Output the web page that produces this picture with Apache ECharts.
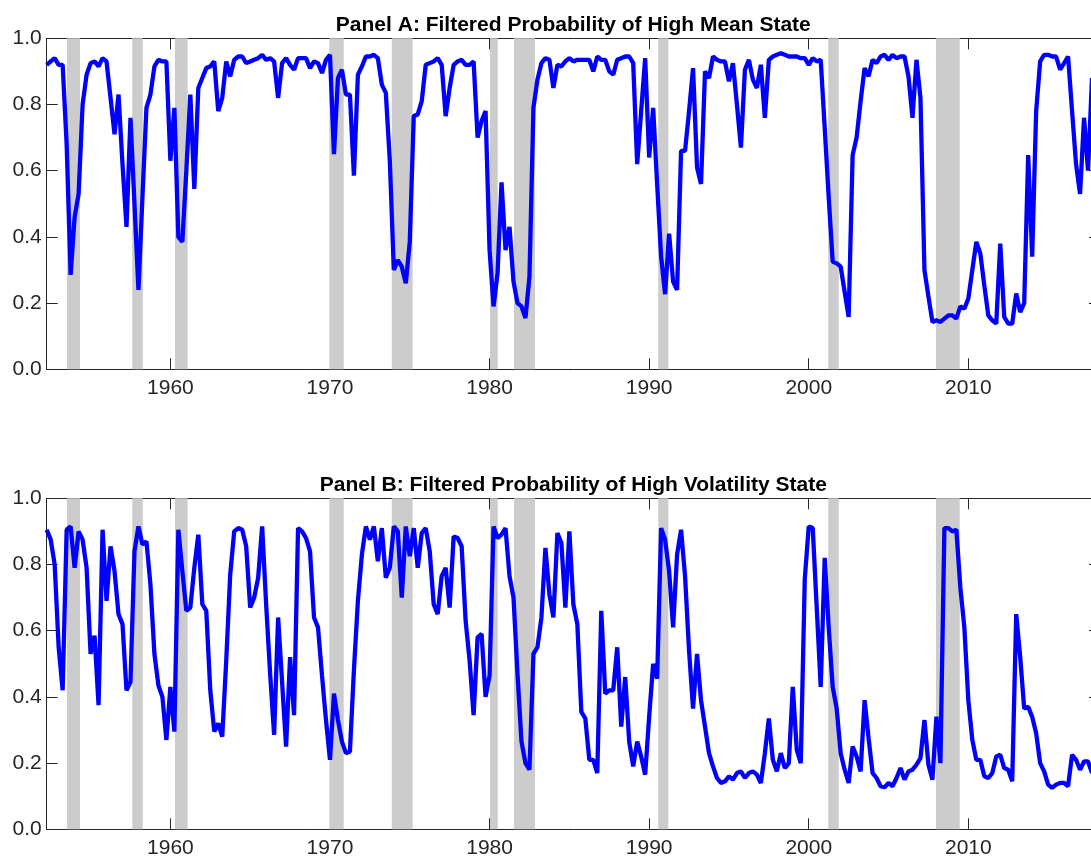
<!DOCTYPE html>
<html>
<head>
<meta charset="utf-8">
<title>Filtered probabilities</title>
<script src="https://cdn.jsdelivr.net/npm/echarts@6/dist/echarts.min.js"></script>
<style>
html, body { margin: 0; padding: 0; background: #fff; overflow: hidden; }
/* a bit wider than the window: the right frame of the axes falls just outside the picture */
#chart { width: 1110px; height: 859px; }
</style>
</head>
<body>
<div id="chart"></div>
<script>
// quarterly observations, first one at 1952.25
var startYear = 1952.25;

var highMeanProb = [
  0.92, 0.93, 0.94, 0.92, 0.92, 0.68, 0.285, 0.46, 0.53, 0.80,
  0.89, 0.925, 0.93, 0.915, 0.94, 0.93, 0.82, 0.71, 0.83, 0.62,
  0.43, 0.76, 0.50, 0.24, 0.52, 0.79, 0.83, 0.915, 0.935, 0.93,
  0.93, 0.63, 0.79, 0.40, 0.385, 0.60, 0.83, 0.545, 0.85, 0.88,
  0.91, 0.915, 0.93, 0.78, 0.82, 0.93, 0.885, 0.935, 0.945, 0.945,
  0.925, 0.93, 0.935, 0.94, 0.95, 0.935, 0.94, 0.93, 0.82, 0.925,
  0.94, 0.92, 0.905, 0.94, 0.94, 0.94, 0.91, 0.93, 0.925, 0.895,
  0.935, 0.95, 0.65, 0.88, 0.905, 0.83, 0.83, 0.585, 0.89, 0.915,
  0.945, 0.945, 0.95, 0.94, 0.86, 0.835, 0.63, 0.30, 0.33, 0.31,
  0.26, 0.385, 0.765, 0.77, 0.81, 0.92, 0.925, 0.93, 0.94, 0.92,
  0.765, 0.85, 0.92, 0.93, 0.935, 0.92, 0.92, 0.93, 0.70, 0.75,
  0.78, 0.36, 0.19, 0.29, 0.565, 0.36, 0.43, 0.265, 0.20, 0.19,
  0.155, 0.28, 0.79, 0.875, 0.925, 0.94, 0.935, 0.85, 0.92, 0.915,
  0.93, 0.94, 0.93, 0.935, 0.935, 0.935, 0.935, 0.90, 0.945, 0.935,
  0.935, 0.90, 0.89, 0.935, 0.94, 0.945, 0.945, 0.925, 0.62, 0.78,
  0.94, 0.64, 0.79, 0.56, 0.34, 0.227, 0.41, 0.265, 0.24, 0.66,
  0.66, 0.78, 0.91, 0.61, 0.56, 0.90, 0.88, 0.945, 0.935, 0.93,
  0.93, 0.87, 0.925, 0.80, 0.67, 0.905, 0.935, 0.875, 0.85, 0.92,
  0.76, 0.935, 0.945, 0.95, 0.955, 0.95, 0.945, 0.945, 0.945, 0.94,
  0.94, 0.92, 0.94, 0.93, 0.935, 0.73, 0.52, 0.325, 0.32, 0.31,
  0.234, 0.158, 0.647, 0.70, 0.81, 0.91, 0.885, 0.935, 0.925, 0.945,
  0.95, 0.935, 0.95, 0.94, 0.945, 0.945, 0.885, 0.76, 0.935, 0.82,
  0.30, 0.22, 0.143, 0.148, 0.143, 0.153, 0.163, 0.163, 0.153, 0.19,
  0.183, 0.214, 0.30, 0.385, 0.35, 0.254, 0.163, 0.148, 0.138, 0.38,
  0.158, 0.138, 0.138, 0.229, 0.173, 0.20, 0.647, 0.34, 0.78, 0.93,
  0.95, 0.95, 0.945, 0.945, 0.905, 0.925, 0.945, 0.78, 0.62, 0.53,
  0.76, 0.60, 0.88
];

var highVolProb = [
  0.905, 0.875, 0.80, 0.55, 0.42, 0.905, 0.915, 0.79, 0.90, 0.875,
  0.79, 0.53, 0.585, 0.375, 0.905, 0.69, 0.855, 0.78, 0.65, 0.62,
  0.42, 0.445, 0.84, 0.915, 0.86, 0.87, 0.74, 0.53, 0.435, 0.40,
  0.27, 0.43, 0.295, 0.905, 0.78, 0.66, 0.67, 0.79, 0.89, 0.68,
  0.66, 0.42, 0.295, 0.32, 0.28, 0.51, 0.77, 0.90, 0.91, 0.905,
  0.855, 0.67, 0.70, 0.76, 0.915, 0.68, 0.47, 0.285, 0.64, 0.445,
  0.25, 0.52, 0.345, 0.91, 0.90, 0.88, 0.84, 0.64, 0.61, 0.465,
  0.33, 0.21, 0.41, 0.33, 0.265, 0.23, 0.235, 0.48, 0.69, 0.83,
  0.915, 0.875, 0.915, 0.81, 0.91, 0.76, 0.79, 0.915, 0.90, 0.70,
  0.915, 0.825, 0.91, 0.79, 0.895, 0.91, 0.84, 0.68, 0.65, 0.765,
  0.79, 0.67, 0.885, 0.88, 0.855, 0.63, 0.51, 0.345, 0.58, 0.59,
  0.40, 0.465, 0.915, 0.88, 0.89, 0.91, 0.765, 0.70, 0.47, 0.265,
  0.20, 0.18, 0.53, 0.55, 0.64, 0.85, 0.71, 0.64, 0.895, 0.865,
  0.67, 0.90, 0.68, 0.62, 0.355, 0.335, 0.21, 0.21, 0.17, 0.66,
  0.41, 0.42, 0.42, 0.55, 0.31, 0.46, 0.265, 0.19, 0.265, 0.22,
  0.165, 0.34, 0.50, 0.455, 0.91, 0.875, 0.78, 0.61, 0.83, 0.905,
  0.765, 0.54, 0.365, 0.53, 0.39, 0.31, 0.23, 0.19, 0.155, 0.14,
  0.145, 0.16, 0.15, 0.17, 0.175, 0.155, 0.17, 0.175, 0.165, 0.14,
  0.23, 0.335, 0.21, 0.175, 0.23, 0.185, 0.20, 0.43, 0.24, 0.20,
  0.755, 0.915, 0.91, 0.67, 0.43, 0.82, 0.61, 0.43, 0.365, 0.23,
  0.18, 0.14, 0.25, 0.22, 0.175, 0.39, 0.275, 0.17, 0.155, 0.13,
  0.127, 0.14, 0.13, 0.155, 0.185, 0.15, 0.175, 0.18, 0.195, 0.215,
  0.33, 0.195, 0.15, 0.34, 0.20, 0.91, 0.91, 0.90, 0.905, 0.73,
  0.61, 0.39, 0.27, 0.21, 0.21, 0.16, 0.155, 0.17, 0.22, 0.225,
  0.185, 0.18, 0.145, 0.65, 0.52, 0.365, 0.37, 0.34, 0.29, 0.20,
  0.175, 0.135, 0.125, 0.135, 0.14, 0.14, 0.13, 0.225, 0.21, 0.18,
  0.205, 0.205, 0.17
];

// NBER recessions (start, end) in decimal years
var recessions = [
  [1953.52, 1954.34], [1957.61, 1958.27], [1960.29, 1961.08],
  [1969.96, 1970.86], [1973.87, 1975.18], [1980.03, 1980.51],
  [1981.53, 1982.85], [1990.57, 1991.20], [2001.22, 2001.88],
  [2007.97, 2009.46]
];

var yearTicks = [1960, 1970, 1980, 1990, 2000, 2010];
var probTicks = [0, 0.2, 0.4, 0.6, 0.8, 1.0];

var panelTitles = [
  'Panel A: Filtered Probability of High Mean State',
  'Panel B: Filtered Probability of High Volatility State'
];

var xMin = 1952.25, xMax = 2018.25;
var axisColor = '#262626';
var fontName = '"Liberation Sans", Arial, Helvetica, sans-serif';

function toPairs(values) {
  return values.map(function (v, i) {
    return [startYear + i / 4, v];
  });
}

function renderShade(params, api) {
  var p0 = api.coord([api.value(0), 1]);
  var p1 = api.coord([api.value(1), 0]);
  return {
    type: 'rect',
    shape: { x: p0[0], y: p0[1], width: p1[0] - p0[0], height: p1[1] - p0[1] },
    style: { fill: '#cccccc' }
  };
}

var chart = echarts.init(document.getElementById('chart'));

var tops = [38.3, 498.3];
var grids = [], xAxes = [], yAxes = [], series = [], titles = [];

[highMeanProb, highVolProb].forEach(function (values, k) {
  grids.push({ left: 46.7, top: tops[k], width: 1053.3, height: 331 });

  titles.push({
    text: panelTitles[k],
    left: 573.3,
    top: tops[k] - 24,
    padding: 0,
    textAlign: 'center',
    textStyle: { fontFamily: fontName, fontSize: 21, fontWeight: 'bold', color: '#000' }
  });

  // bottom axis with labels, top axis only for the frame and ticks
  ['bottom', 'top'].forEach(function (pos) {
    xAxes.push({
      type: 'value',
      gridIndex: k,
      position: pos,
      min: xMin,
      max: xMax,
      axisLine: { show: true, onZero: false, lineStyle: { color: axisColor, width: 1 } },
      axisTick: {
        show: true, inside: true, length: 11, customValues: yearTicks,
        lineStyle: { color: axisColor }
      },
      axisLabel: {
        show: pos === 'bottom', customValues: yearTicks, margin: 8,
        fontFamily: fontName, fontSize: 21, color: axisColor,
        formatter: function (v) { return String(v); }
      },
      splitLine: { show: false }
    });
  });

  ['left', 'right'].forEach(function (pos) {
    yAxes.push({
      type: 'value',
      gridIndex: k,
      position: pos,
      min: 0,
      max: 1,
      interval: 0.2,
      axisLine: { show: true, onZero: false, lineStyle: { color: axisColor, width: 1 } },
      axisTick: { show: true, inside: true, length: 11, lineStyle: { color: axisColor } },
      axisLabel: {
        show: pos === 'left', margin: 5,
        fontFamily: fontName, fontSize: 21, color: axisColor,
        formatter: function (v) { return v.toFixed(1); }
      },
      splitLine: { show: false }
    });
  });

  series.push({
    type: 'custom',
    xAxisIndex: 2 * k,
    yAxisIndex: 2 * k,
    renderItem: renderShade,
    encode: { x: [0, 1] },
    data: recessions,
    silent: true,
    z: 1
  });

  series.push({
    type: 'line',
    xAxisIndex: 2 * k,
    yAxisIndex: 2 * k,
    data: toPairs(values),
    showSymbol: false,
    lineStyle: { color: '#0000ff', width: 4.3 },
    z: 3
  });
});

chart.setOption({
  animation: false,
  backgroundColor: '#fff',
  title: titles,
  grid: grids,
  xAxis: xAxes,
  yAxis: yAxes,
  series: series
});
</script>
</body>
</html>
